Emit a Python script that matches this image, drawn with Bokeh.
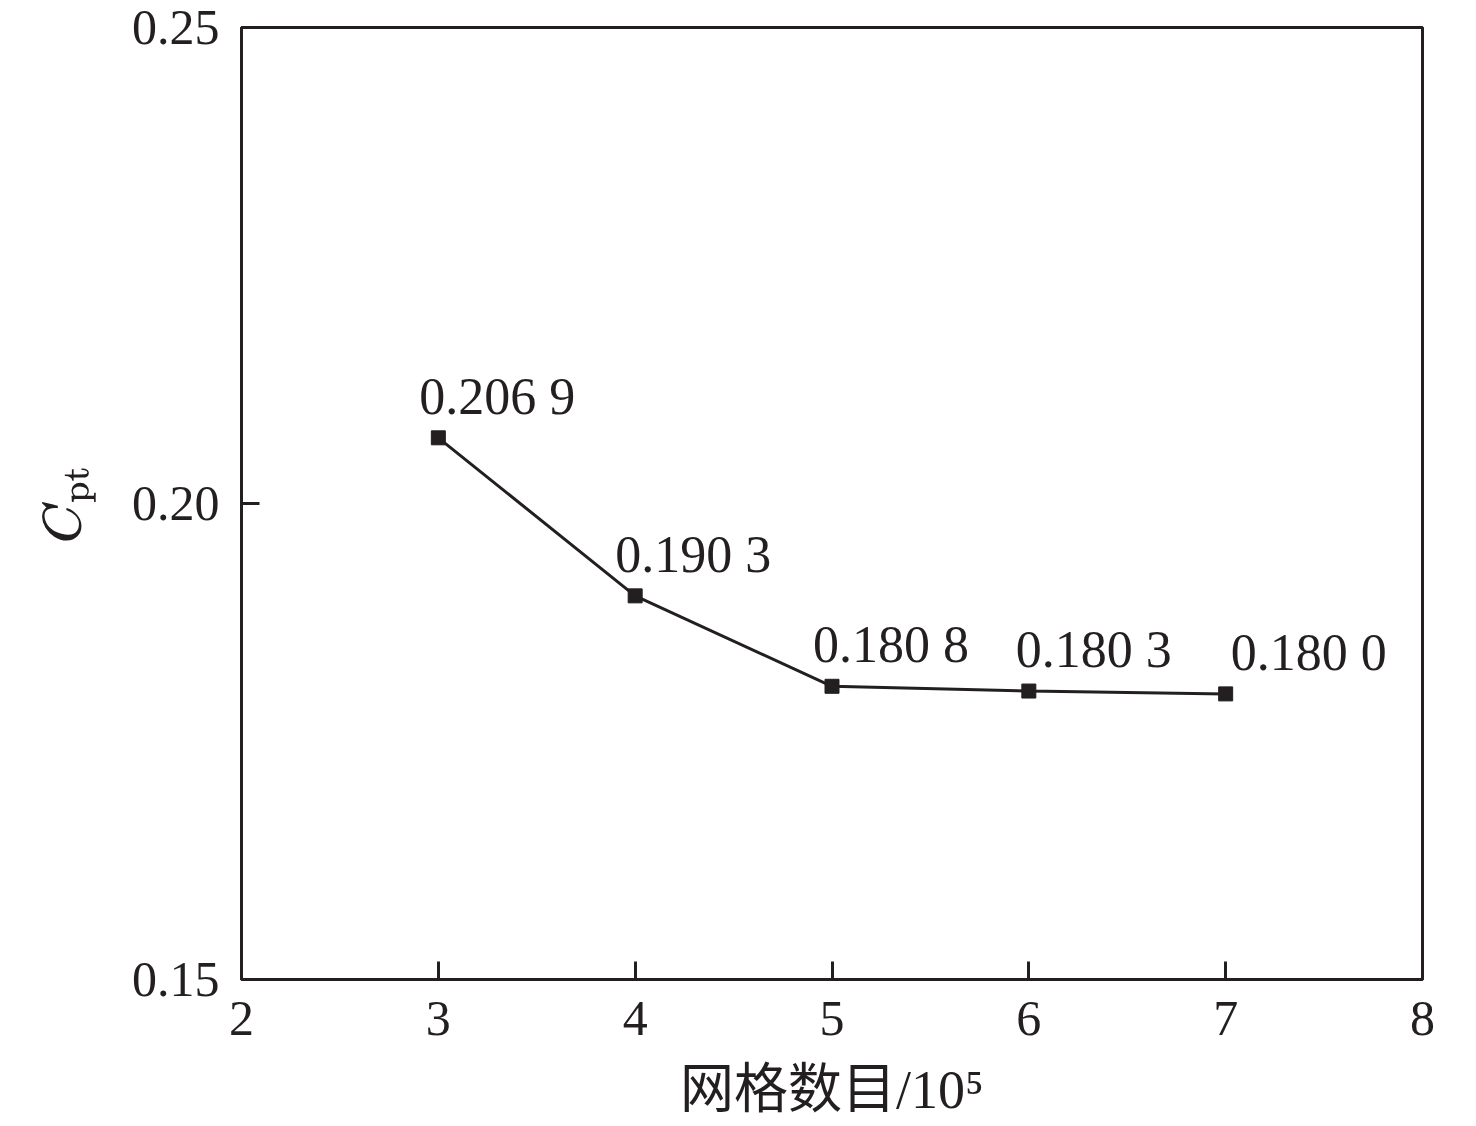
from bokeh.plotting import figure
from bokeh.models import (ColumnDataSource, LabelSet, Range1d,
                          FixedTicker, PrintfTickFormatter)
from bokeh.core.properties import value
from bokeh.embed import file_html
from bokeh.resources import INLINE

# data
grid_counts = [3, 4, 5, 6, 7]           # x 10^5
cpt_values = [0.2069, 0.1903, 0.1808, 0.1803, 0.1800]
x_ticks = [2, 3, 4, 5, 6, 7, 8]
y_ticks = [0.15, 0.20, 0.25]

INK = "#231f20"
SERIF = "Liberation Serif, Noto Sans CJK SC"

W, H = 1468, 1124
LEFT, RIGHT, TOP, BOTTOM = 241, 46, 27, 145

p = figure(width=W, height=H, output_backend="svg", toolbar_location=None,
           x_range=Range1d(2, 8), y_range=Range1d(0.15, 0.25),
           min_border_left=LEFT, min_border_right=RIGHT,
           min_border_top=TOP, min_border_bottom=BOTTOM)
p.grid.visible = False
p.outline_line_color = INK
p.outline_line_width = 3
p.background_fill_color = "white"
p.border_fill_color = "white"

for ax in (p.xaxis[0], p.yaxis[0]):
    ax.axis_line_color = INK
    ax.axis_line_width = 3
    ax.major_tick_line_color = INK
    ax.major_tick_line_width = 3
    ax.major_tick_in = 18
    ax.major_tick_out = 0
    ax.minor_tick_line_color = None
    ax.major_label_text_font = SERIF
    ax.major_label_text_font_size = "50px"
    ax.major_label_text_color = INK
    ax.axis_label_text_font = SERIF
    ax.axis_label_text_font_style = "normal"
    ax.axis_label_text_color = INK

p.xaxis.ticker = FixedTicker(ticks=x_ticks)
p.yaxis.ticker = FixedTicker(ticks=y_ticks)
p.yaxis.formatter = PrintfTickFormatter(format="%.2f")
p.xaxis.major_label_standoff = 22
p.yaxis.major_label_standoff = 22

p.xaxis.axis_label = "网格数目/10⁵"
p.xaxis.axis_label_text_font_size = "54px"
p.xaxis.axis_label_standoff = 22
p.yaxis.axis_label = r"$$C_{\mathrm{pt}}$$"
p.yaxis.axis_label_text_font_size = "52px"
p.yaxis.axis_label_standoff = 30

src = ColumnDataSource(dict(
    x=grid_counts, y=cpt_values,
    txt=["%s %s" % (f"{v:.4f}"[:-1], f"{v:.4f}"[-1]) for v in cpt_values],
    dx=[-19, -20, -19, -13, 5],
))
p.line("x", "y", source=src, line_color=INK, line_width=3)
p.scatter("x", "y", source=src, marker="square", size=14,
          fill_color=INK, line_color=INK)
p.add_layout(LabelSet(x="x", y="y", text="txt", source=src,
                      x_offset="dx", y_offset=24,
                      text_font=value(SERIF), text_font_size="52px",
                      text_color=INK, text_baseline="alphabetic"))

open("out.html", "w").write(file_html(p, INLINE))
